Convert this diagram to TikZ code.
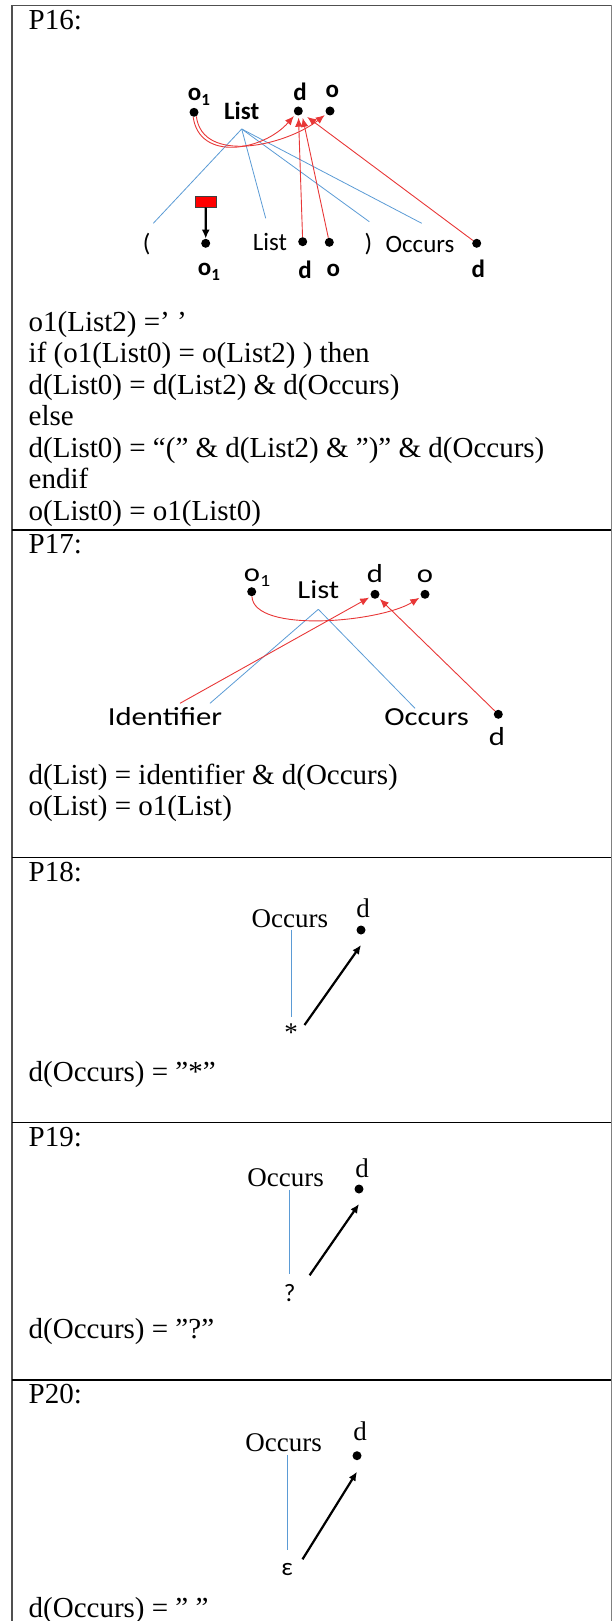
\documentclass[tikz,border=0pt]{standalone}
\usepackage{fontspec}
\setmainfont{Liberation Serif}
\newfontfamily\calibrifont{Carlito}
\usetikzlibrary{arrows.meta}
\definecolor{treeblue}{RGB}{91,155,213}
\definecolor{linkred}{RGB}{232,55,55}
\definecolor{framegray}{RGB}{80,80,80}
\newcommand{\osub}{o\raisebox{-5pt}{\fontsize{17}{17}\selectfont 1}}

\begin{document}
\begin{tikzpicture}[x=1pt,y=-1pt,
  bodytext/.style={anchor=base west,inner sep=0pt,font=\fontsize{29}{31.5}\selectfont},
  sans/.style={inner sep=0pt,font=\calibrifont\fontsize{25}{25}\selectfont},
  sansbold/.style={inner sep=0pt,font=\calibrifont\bfseries\fontsize{25}{25}\selectfont},
  widesans/.style={inner sep=0pt,font=\calibrifont\fontsize{26}{26}\selectfont,xscale=1.18},
  serif/.style={inner sep=0pt,font=\fontsize{27}{27}\selectfont},
  vdot/.style={circle,fill=black,inner sep=0pt,minimum size=9pt},
  treeline/.style={treeblue,line width=0.8pt},
  redarrow/.style={linkred,line width=0.9pt,-{Latex[length=9pt,width=7.5pt]},shorten >=2pt},
  blackarrow/.style={line width=2.2pt,-{Latex[length=9pt,width=8pt]}},
  sepline/.style={black,line width=1.2pt}]
\useasboundingbox (0,0) rectangle (612,1621);
% table frame and row rules
\draw[framegray,line width=1.5pt] (12,1621) -- (12,5.5) -- (611,5.5);
\draw[gray,line width=1pt] (611,5.5) -- (611,1621);
\foreach \y in {530,857.3,1122.3,1380} \draw[sepline] (12,\y) -- (611,\y);

% ---- P16 ----
\node[bodytext] (p16title) at (28.5,30) {P16:};
\node[vdot] (p16o1) at (194,112.3) {};
\node[sansbold] (p16o1lab) at (199,96.7) {\osub};
\node[sansbold] (p16list) at (241.7,110.7) {List};
\node[vdot] (p16d) at (298.3,111) {};
\node[sansbold] (p16dlab) at (300,91.7) {d};
\node[vdot] (p16o) at (330,111) {};
\node[sansbold] (p16olab) at (332.3,91.7) {o};
\coordinate (p16root) at (241.7,129);
% children of List
\node[sans] (p16lp) at (146.7,244.3) {(};
\node[rectangle,draw=black!75,fill=red,minimum width=21.7pt,minimum height=10.6pt,inner sep=0pt] (p16box) at (205.8,202) {};
\node[vdot] (p16o1b) at (205.7,243.3) {};
\node[sansbold] (p16o1blab) at (209,271.7) {\osub};
\node[sans] (p16list2) at (270,241.7) {List};
\node[vdot] (p16db) at (302.7,241.7) {};
\node[sansbold] (p16dblab) at (305,270) {d};
\node[vdot] (p16ob) at (329.3,242.3) {};
\node[sansbold] (p16oblab) at (333.3,270) {o};
\node[sans] (p16rp) at (368.3,244.3) {)};
\node[sans] (p16occ) at (420,244) {Occurs};
\node[vdot] (p16dr) at (476.7,243.3) {};
\node[sansbold] (p16drlab) at (478.3,269.3) {d};
% tree edges
\coordinate (p16t1) at (153.3,223.3);
\coordinate (p16t2) at (265.7,218.3);
\coordinate (p16t3) at (369.3,221.7);
\coordinate (p16t4) at (421.7,223.3);
\foreach \t in {p16t1,p16t2,p16t3,p16t4} \draw[treeline] (p16root) -- (\t);
% attribute flow
\draw[blackarrow] (p16box) -- (p16o1b);
\draw[redarrow] (p16o1.-100) .. controls +(6,45) and +(-35,40) .. (p16d);
\draw[redarrow] (p16o1.-60) .. controls +(6,48) and +(-45,35) .. (p16o);
\draw[redarrow] (p16db) -- (p16d);
\draw[redarrow,shorten >=4pt] (p16ob) -- (p16d.-40);
\draw[redarrow,shorten >=6pt] (p16dr) -- (p16d.-30);
\foreach \txt [count=\i] in {{o1(List2) =’ ’},{if (o1(List0) = o(List2) ) then},{d(List0) = d(List2) \& d(Occurs)},{else},{d(List0) = “(” \& d(List2) \& ”)” \& d(Occurs)},{endif},{o(List0) = o1(List0)}}
  \node[bodytext] (p16line\i) at (28.5,{331+31.5*(\i-1)}) {\txt};

% ---- P17 ----
\node[bodytext] (p17title) at (28.5,553) {P17:};
\node[vdot] (p17o1) at (251.7,591.7) {};
\node[widesans] (p17o1lab) at (257,577.3) {\osub};
\node[widesans] (p17list) at (318.3,589.3) {List};
\node[vdot] (p17d) at (375,594.3) {};
\node[widesans] (p17dlab) at (375,574) {d};
\node[vdot] (p17o) at (425,594.3) {};
\node[widesans] (p17olab) at (425,576) {o};
\coordinate (p17root) at (318.3,609.3);
\node[widesans] (p17id) at (165,716.7) {Identifier};
\node[widesans] (p17occ) at (426.7,717.3) {Occurs};
\node[vdot] (p17dr) at (498.3,714.3) {};
\node[widesans] (p17drlab) at (497,737) {d};
\coordinate (p17t1) at (210,703.3);
\coordinate (p17t2) at (415,708.3);
\coordinate (p17s) at (180,703.3);
\draw[treeline] (p17root) -- (p17t1);
\draw[treeline] (p17root) -- (p17t2);
\draw[redarrow] (p17o1) .. controls +(2,42) and +(-45,28) .. (p17o);
\draw[redarrow] (p17s) -- (p17d);
\draw[redarrow] (p17dr) -- (p17d);
\node[bodytext] (p17line1) at (28.5,784) {d(List) = identifier \& d(Occurs)};
\node[bodytext] (p17line2) at (28.5,815.7) {o(List) = o1(List)};

% ---- P18 ----
\node[bodytext] (p18title) at (28.5,881.5) {P18:};
\node[serif] (p18occ) at (289.8,918.3) {Occurs};
\node[serif] (p18dlab) at (363,908.3) {d};
\node[vdot] (p18d) at (361,930) {};
\node[serif] (p18star) at (291,1033) {*};
\draw[treeline,shorten <=2pt,shorten >=7pt] (p18occ.south -| p18star) -- (p18star.north);
\draw[blackarrow] ([shift={(13.5,-8)}]p18star.center) -- ([shift={(0,15)}]p18d.center);
\node[bodytext] (p18line1) at (28.5,1081) {d(Occurs) = ”*”};

% ---- P19 ----
\node[bodytext] (p19title) at (28.5,1146) {P19:};
\node[serif] (p19occ) at (285.6,1177.3) {Occurs};
\node[serif] (p19dlab) at (362.2,1168.3) {d};
\node[vdot] (p19d) at (359,1189) {};
\node[sans] (p19q) at (289.6,1293.3) {?};
\draw[treeline,shorten <=3pt,shorten >=10pt] (p19occ.south -| p19q) -- (p19q.north);
\draw[blackarrow] ([shift={(20,-18)}]p19q.center) -- ([shift={(0,15)}]p19d.center);
\node[bodytext] (p19line1) at (28.5,1338) {d(Occurs) = ”?”};

% ---- P20 ----
\node[bodytext] (p20title) at (28.5,1403) {P20:};
\node[serif] (p20occ) at (283.6,1442.7) {Occurs};
\node[serif] (p20dlab) at (360,1431.7) {d};
\node[vdot] (p20d) at (357,1455.7) {};
\node[sans] (p20eps) at (287,1569.3) {ε};
\draw[treeline,shorten <=3pt,shorten >=13pt] (p20occ.south -| p20eps) -- (p20eps.north);
\draw[blackarrow] ([shift={(15.5,-10)}]p20eps.center) -- ([shift={(0,16)}]p20d.center);
\node[bodytext] (p20line1) at (28.5,1617) {d(Occurs) = ” ”};
\end{tikzpicture}
\end{document}
